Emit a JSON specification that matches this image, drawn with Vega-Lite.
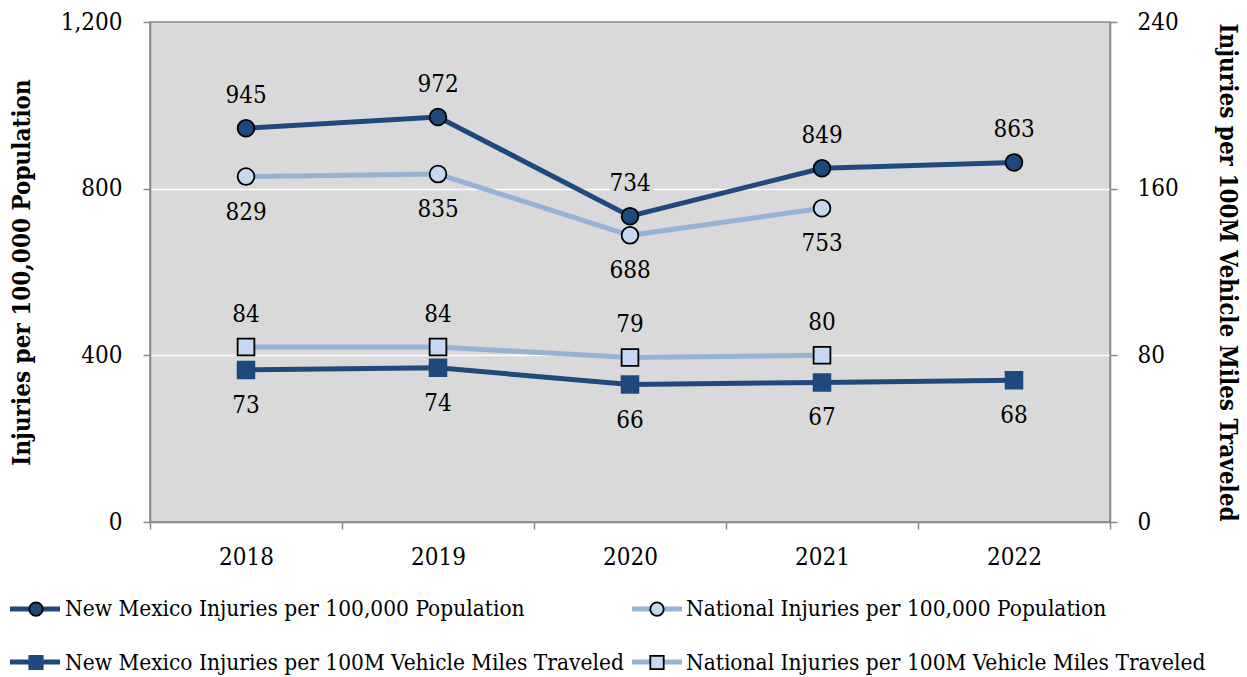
{
  "$schema": "https://vega.github.io/schema/vega-lite/v6.json",
  "width": 960,
  "height": 500,
  "autosize": {"type": "none"},
  "padding": {"left": 150, "top": 22, "right": 137, "bottom": 155},
  "background": "white",
  "config": {
    "font": "DejaVu Serif Condensed",
    "view": {"fill": "#d9d9d9", "stroke": "#898989", "strokeWidth": 1.5},
    "axis": {
      "domainColor": "#898989",
      "domainWidth": 1.5,
      "tickColor": "#898989",
      "tickWidth": 1.5,
      "tickSize": 7,
      "labelFontSize": 24,
      "labelColor": "black",
      "labelFont": "DejaVu Serif Condensed",
      "titleFont": "DejaVu Serif Condensed",
      "titleFontSize": 24,
      "titleFontWeight": "bold",
      "titleColor": "black",
      "gridColor": "white",
      "gridWidth": 1.5
    },
    "legend": {"labelFont": "DejaVu Serif Condensed", "labelFontSize": 22.5, "labelColor": "black"}
  },
  "data": {
    "values": [
      {"year": "2018", "measure": "pop", "series": "New Mexico Injuries per 100,000 Population", "value": 945},
      {"year": "2019", "measure": "pop", "series": "New Mexico Injuries per 100,000 Population", "value": 972},
      {"year": "2020", "measure": "pop", "series": "New Mexico Injuries per 100,000 Population", "value": 734},
      {"year": "2021", "measure": "pop", "series": "New Mexico Injuries per 100,000 Population", "value": 849},
      {"year": "2022", "measure": "pop", "series": "New Mexico Injuries per 100,000 Population", "value": 863},
      {"year": "2018", "measure": "pop", "series": "National Injuries per 100,000 Population", "value": 829},
      {"year": "2019", "measure": "pop", "series": "National Injuries per 100,000 Population", "value": 835},
      {"year": "2020", "measure": "pop", "series": "National Injuries per 100,000 Population", "value": 688},
      {"year": "2021", "measure": "pop", "series": "National Injuries per 100,000 Population", "value": 753},
      {"year": "2018", "measure": "vmt", "series": "New Mexico Injuries per 100M Vehicle Miles Traveled", "value": 73},
      {"year": "2019", "measure": "vmt", "series": "New Mexico Injuries per 100M Vehicle Miles Traveled", "value": 74},
      {"year": "2020", "measure": "vmt", "series": "New Mexico Injuries per 100M Vehicle Miles Traveled", "value": 66},
      {"year": "2021", "measure": "vmt", "series": "New Mexico Injuries per 100M Vehicle Miles Traveled", "value": 67},
      {"year": "2022", "measure": "vmt", "series": "New Mexico Injuries per 100M Vehicle Miles Traveled", "value": 68},
      {"year": "2018", "measure": "vmt", "series": "National Injuries per 100M Vehicle Miles Traveled", "value": 84},
      {"year": "2019", "measure": "vmt", "series": "National Injuries per 100M Vehicle Miles Traveled", "value": 84},
      {"year": "2020", "measure": "vmt", "series": "National Injuries per 100M Vehicle Miles Traveled", "value": 79},
      {"year": "2021", "measure": "vmt", "series": "National Injuries per 100M Vehicle Miles Traveled", "value": 80}
    ]
  },
  "encoding": {
    "x": {
      "field": "year",
      "type": "ordinal",
      "scale": {"type": "band", "paddingInner": 0, "paddingOuter": 0},
      "axis": {"title": null, "labelAngle": 0, "tickBand": "extent", "labelPadding": 16, "grid": false}
    }
  },
  "layer": [
    {
      "transform": [{"filter": "datum.measure == 'pop'"}],
      "encoding": {
        "y": {
          "field": "value",
          "type": "quantitative",
          "scale": {"domain": [0, 1200], "nice": false},
          "axis": {
            "orient": "left",
            "values": [0, 400, 800, 1200],
            "format": ",d",
            "title": "Injuries per 100,000 Population",
            "labelPadding": 21,
            "titlePadding": 26,
            "grid": true,
            "gridColor": {"condition": {"test": "datum.value > 0 && datum.value < 1200", "value": "white"}, "value": "transparent"}
          }
        }
      },
      "layer": [
        {
          "mark": {"type": "line", "strokeWidth": 5},
          "encoding": {
            "color": {
              "field": "series",
              "type": "nominal",
              "scale": {
                "domain": ["New Mexico Injuries per 100,000 Population", "National Injuries per 100,000 Population", "New Mexico Injuries per 100M Vehicle Miles Traveled", "National Injuries per 100M Vehicle Miles Traveled"],
                "range": ["#1f497d", "#95b3d7", "#1f497d", "#95b3d7"]
              },
              "legend": {
                "orient": "none", "legendX": -142.5, "legendY": 559.5, "columns": 2, "direction": "horizontal",
                "columnPadding": 551, "rowPadding": 14, "padding": 0, "title": null,
                "symbolType": "M-1,0H1", "symbolSize": 2500, "symbolStrokeWidth": 5,
                "labelExpr": "''", "labelFontSize": 22.5, "labelLimit": 1000, "labelOffset": 0
              }
            }
          }
        },
        {
          "mark": {"type": "point", "filled": true, "size": 280, "strokeWidth": 1.8, "opacity": 1},
          "encoding": {
            "fill": {
              "field": "series",
              "type": "nominal",
              "scale": {
                "domain": ["New Mexico Injuries per 100,000 Population", "National Injuries per 100,000 Population", "New Mexico Injuries per 100M Vehicle Miles Traveled", "National Injuries per 100M Vehicle Miles Traveled", " "],
                "range": ["#1f497d", "#c6d9f1", "#1f497d", "#c6d9f1", "#c6d9f1"]
              },
              "legend": {
                "orient": "none", "legendX": -125.25, "legendY": 575.75, "columns": 2, "direction": "horizontal",
                "columnPadding": 21, "rowPadding": 30.5, "padding": 0, "title": null,
                "symbolSize": 180, "symbolStrokeWidth": 1.8,
                "labelFontSize": 22.5, "labelLimit": 1000, "labelOffset": 17.75,
                "values": ["New Mexico Injuries per 100,000 Population", "National Injuries per 100,000 Population", "New Mexico Injuries per 100M Vehicle Miles Traveled", "National Injuries per 100M Vehicle Miles Traveled"]
              }
            },
            "shape": {
              "field": "series",
              "type": "nominal",
              "scale": {
                "domain": ["New Mexico Injuries per 100,000 Population", "National Injuries per 100,000 Population", "New Mexico Injuries per 100M Vehicle Miles Traveled", "National Injuries per 100M Vehicle Miles Traveled", " "],
                "range": ["circle", "circle", "square", "square", "circle"]
              }
            },
            "stroke": {
              "field": "series",
              "type": "nominal",
              "scale": {
                "domain": ["New Mexico Injuries per 100,000 Population", "National Injuries per 100,000 Population", "New Mexico Injuries per 100M Vehicle Miles Traveled", "National Injuries per 100M Vehicle Miles Traveled", " "],
                "range": ["black", "black", "#1f497d", "black", "black"]
              }
            }
          }
        },
        {
          "transform": [{"filter": "test(/^New Mexico/, datum.series)"}],
          "mark": {"type": "text", "fontSize": 24, "baseline": "middle", "dy": -32, "fill": "#d9d9d9", "stroke": "#d9d9d9", "strokeWidth": 8, "strokeJoin": "round"},
          "encoding": {"text": {"field": "value", "type": "quantitative", "format": "d"}}
        },
        {
          "transform": [{"filter": "test(/^New Mexico/, datum.series)"}],
          "mark": {"type": "text", "fontSize": 24, "baseline": "middle", "dy": -32, "color": "black"},
          "encoding": {"text": {"field": "value", "type": "quantitative", "format": "d"}}
        },
        {
          "transform": [{"filter": "test(/^National/, datum.series)"}],
          "mark": {"type": "text", "fontSize": 24, "baseline": "middle", "dy": 36, "fill": "#d9d9d9", "stroke": "#d9d9d9", "strokeWidth": 8, "strokeJoin": "round"},
          "encoding": {"text": {"field": "value", "type": "quantitative", "format": "d"}}
        },
        {
          "transform": [{"filter": "test(/^National/, datum.series)"}],
          "mark": {"type": "text", "fontSize": 24, "baseline": "middle", "dy": 36, "color": "black"},
          "encoding": {"text": {"field": "value", "type": "quantitative", "format": "d"}}
        }
      ]
    },
    {
      "transform": [{"filter": "datum.measure == 'vmt'"}],
      "encoding": {
        "y": {
          "field": "value",
          "type": "quantitative",
          "scale": {"domain": [0, 240], "nice": false},
          "axis": {
            "orient": "right",
            "values": [0, 80, 160, 240],
            "title": "Injuries per 100M Vehicle Miles Traveled",
            "labelPadding": 20,
            "titlePadding": 36,
            "grid": false
          }
        }
      },
      "layer": [
        {
          "mark": {"type": "line", "strokeWidth": 5},
          "encoding": {"color": {"field": "series", "type": "nominal"}}
        },
        {
          "mark": {"type": "point", "filled": true, "size": 280, "strokeWidth": 1.8, "opacity": 1},
          "encoding": {
            "fill": {"field": "series", "type": "nominal"},
            "shape": {"field": "series", "type": "nominal"},
            "stroke": {"field": "series", "type": "nominal"}
          }
        },
        {
          "transform": [{"filter": "test(/^National/, datum.series)"}],
          "mark": {"type": "text", "fontSize": 24, "baseline": "middle", "dy": -32, "fill": "#d9d9d9", "stroke": "#d9d9d9", "strokeWidth": 8, "strokeJoin": "round"},
          "encoding": {"text": {"field": "value", "type": "quantitative", "format": "d"}}
        },
        {
          "transform": [{"filter": "test(/^National/, datum.series)"}],
          "mark": {"type": "text", "fontSize": 24, "baseline": "middle", "dy": -32, "color": "black"},
          "encoding": {"text": {"field": "value", "type": "quantitative", "format": "d"}}
        },
        {
          "transform": [{"filter": "test(/^New Mexico/, datum.series)"}],
          "mark": {"type": "text", "fontSize": 24, "baseline": "middle", "dy": 36, "fill": "#d9d9d9", "stroke": "#d9d9d9", "strokeWidth": 8, "strokeJoin": "round"},
          "encoding": {"text": {"field": "value", "type": "quantitative", "format": "d"}}
        },
        {
          "transform": [{"filter": "test(/^New Mexico/, datum.series)"}],
          "mark": {"type": "text", "fontSize": 24, "baseline": "middle", "dy": 36, "color": "black"},
          "encoding": {"text": {"field": "value", "type": "quantitative", "format": "d"}}
        }
      ]
    }
  ],
  "resolve": {"scale": {"y": "independent"}}
}
